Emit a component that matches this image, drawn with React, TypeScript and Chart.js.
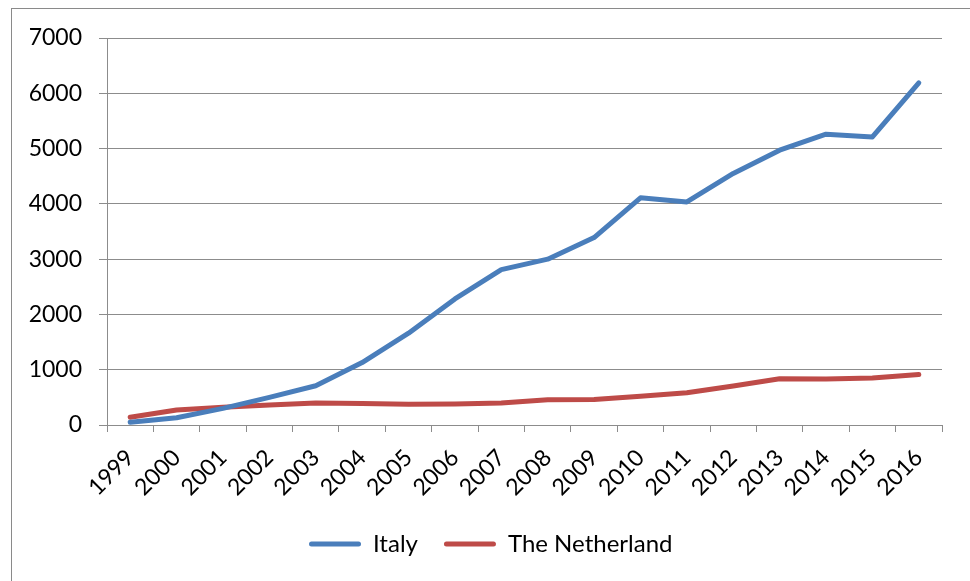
import React, { useEffect, useRef } from "react";
import { Chart, registerables } from "chart.js";

Chart.register(...registerables);

const years = ["1999","2000","2001","2002","2003","2004","2005","2006","2007","2008","2009","2010","2011","2012","2013","2014","2015","2016"];
const italy = [50, 130, 300, 500, 710, 1130, 1660, 2280, 2810, 3000, 3390, 4110, 4035, 4550, 4970, 5260, 5210, 6190];
const netherlands = [140, 270, 320, 360, 400, 390, 375, 380, 400, 455, 460, 520, 585, 705, 835, 830, 850, 915];
const seriesNames = ["Italy", "The Netherland"];
const yTicks = [0, 1000, 2000, 3000, 4000, 5000, 6000, 7000];

const BLUE = "#4A7EBB";
const RED = "#BE4B48";
const GRID = "#8c8c8c";
const FONT = "Lato";
const PL = 20;
const PR = 28;
const LEGEND_PAD = 26;
const LEGEND_START = 309;

const legendShift = {
  id: "legendShift",
  afterLayout(c: any) {
    const lg = c.legend;
    if (!lg || !lg.lineWidths) return;
    const x = (lg.left + LEGEND_PAD + lg.right - lg.lineWidths[0]) / 2;
    const d = LEGEND_START - x;
    lg.left += d;
    lg.right += d;
  },
};

export default function App() {
  const ref = useRef<HTMLCanvasElement | null>(null);
  useEffect(() => {
    if (!ref.current) return;
    const chart = new Chart(ref.current, {
      type: "line",
      data: {
        labels: years,
        datasets: [
          { label: seriesNames[0], data: italy, borderColor: BLUE, backgroundColor: BLUE, borderWidth: 5, pointRadius: 0, tension: 0, borderCapStyle: "round", borderJoinStyle: "round" },
          { label: seriesNames[1], data: netherlands, borderColor: RED, backgroundColor: RED, borderWidth: 5, pointRadius: 0, tension: 0, borderCapStyle: "round", borderJoinStyle: "round" },
        ],
      },
      plugins: [legendShift],
      options: {
        animation: false,
        responsive: false,
        devicePixelRatio: 1,
        layout: { padding: { left: PL, right: PR, top: 38, bottom: 15 } },
        font: { family: FONT, size: 23 },
        color: "#000",
        plugins: {
          tooltip: { enabled: false },
          legend: {
            position: "bottom",
            labels: {
              boxWidth: 52,
              boxHeight: 5,
              padding: LEGEND_PAD,
              color: "#000",
              font: { family: FONT, size: 24 },
              generateLabels: (c: any) => {
                const items = Chart.defaults.plugins.legend.labels.generateLabels(c);
                return items.map((it: any) => ({ ...it, lineWidth: 0, borderRadius: 2.5 }));
              },
            },
          },
        },
        scales: {
          x: {
            type: "category",
            offset: true,
            afterFit: (s: any) => { s.height = 506 - 425; },
            grid: { display: true, drawOnChartArea: false, drawTicks: true, tickLength: 7, offset: true, color: GRID, lineWidth: 1 },
            border: { display: true, color: GRID, width: 1 },
            ticks: { autoSkip: false, maxRotation: 45, minRotation: 45, padding: 12, color: "#000", font: { family: FONT, size: 23 } },
          },
          y: {
            min: 0,
            max: 7000,
            afterFit: (s: any) => { s.width = 107 - PL; },
            afterBuildTicks: (s: any) => { s.ticks = yTicks.map((v) => ({ value: v })); },
            grid: { color: GRID, lineWidth: 1, drawTicks: true, tickLength: 8 },
            border: { display: true, color: GRID, width: 1 },
            ticks: { padding: 17, color: "#000", font: { family: FONT, size: 23 }, callback: (v: any) => String(v) },
          },
        },
      },
    });
    return () => chart.destroy();
  }, []);
  return (
    <div style={{ position: "absolute", left: 0, top: 0, width: 970, height: 581, overflow: "hidden", background: "#fff" }}>
      <div style={{ position: "absolute", left: 11, top: 8, width: 970, height: 581, borderLeft: "1px solid #8a8a8a", borderTop: "1px solid #8a8a8a" }} />
      <canvas ref={ref} width={970} height={581} style={{ position: "absolute", left: 0, top: 0, width: 970, height: 581 }} />
    </div>
  );
}
